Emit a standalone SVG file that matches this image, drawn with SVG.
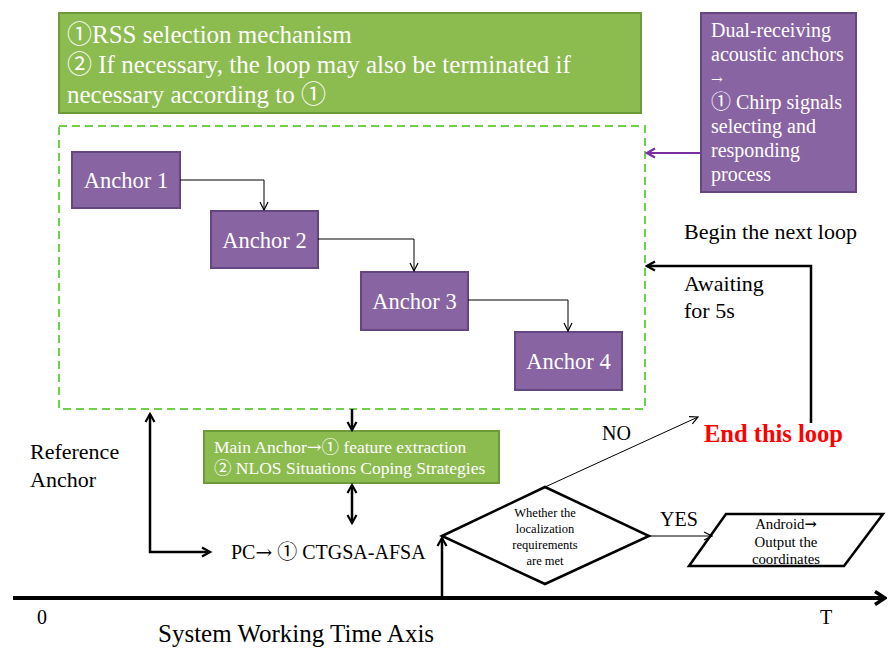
<svg xmlns="http://www.w3.org/2000/svg" width="888" height="648" viewBox="0 0 888 648">
  <style>
    text { font-family: "Liberation Serif", "Times New Roman", "DejaVu Serif", "Noto Sans CJK SC", serif; }
    .arr { font-family: "DejaVu Serif", "Noto Sans CJK SC", serif; }
    .green { fill: #8cbb4f; stroke: #6f9a3c; stroke-width: 2; }
    .purple { fill: #8964a2; stroke: #644680; stroke-width: 2; }
    .wt { fill: #ffffff; }
    .bk { fill: #000000; }
    .thin { fill: none; stroke: #000; stroke-width: 1; }
    .thick { fill: none; stroke: #000; stroke-width: 2.5; }
    .shape { fill: #ffffff; stroke: #000; stroke-width: 2.5; }
  </style>
  <defs>
    <marker id="openThin" viewBox="0 0 10 10" refX="9" refY="5" markerWidth="10" markerHeight="10" markerUnits="userSpaceOnUse" orient="auto-start-reverse">
      <path d="M1,1 L9,5 L1,9" fill="none" stroke="#000" stroke-width="1.2"/>
    </marker>
    <marker id="openBold" viewBox="0 0 12 12" refX="10" refY="6" markerWidth="12" markerHeight="12" markerUnits="userSpaceOnUse" orient="auto-start-reverse">
      <path d="M2,1.5 L10,6 L2,10.5" fill="none" stroke="#000" stroke-width="2.2"/>
    </marker>
    <marker id="openPurple" viewBox="0 0 12 12" refX="10" refY="6" markerWidth="12" markerHeight="12" markerUnits="userSpaceOnUse" orient="auto">
      <path d="M2,1.5 L10,6 L2,10.5" fill="none" stroke="#7b2fa0" stroke-width="2.2"/>
    </marker>
    <marker id="axisHead" viewBox="0 0 14 16" refX="12" refY="8" markerWidth="14" markerHeight="16" markerUnits="userSpaceOnUse" orient="auto">
      <path d="M2,1.5 L12,8 L2,14.5" fill="none" stroke="#000" stroke-width="3.5"/>
    </marker>
  </defs>

  <!-- notes box -->
  <g id="notes">
    <rect class="green" x="59" y="13" width="582" height="100"/>
    <text class="wt" font-size="25" x="67" y="43">①RSS selection mechanism</text>
    <text class="wt" font-size="25" x="67" y="73">② If necessary, the loop may also be terminated if</text>
    <text class="wt" font-size="25" x="67" y="103">necessary according to ①</text>
  </g>

  <!-- dual-receiving anchors box -->
  <g id="dual-anchors">
    <rect class="purple" x="701" y="13" width="155" height="179"/>
    <text class="wt" font-size="20" x="711" y="37">Dual-receiving</text>
    <text class="wt" font-size="20" x="711" y="61">acoustic anchors</text>
    <text class="wt arr" font-size="14" x="711" y="84">→</text>
    <text class="wt" font-size="20" x="711" y="109">① Chirp signals</text>
    <text class="wt" font-size="20" x="711" y="133">selecting and</text>
    <text class="wt" font-size="20" x="711" y="157">responding</text>
    <text class="wt" font-size="20" x="711" y="181">process</text>
  </g>

  <!-- anchor group frame -->
  <g id="anchor-group">
    <rect x="59" y="126" width="586" height="283" fill="none" stroke="#6fd04a" stroke-width="2" stroke-dasharray="8,5"/>
  </g>

  <g id="anchor1">
    <rect class="purple" x="72" y="152" width="108" height="56"/>
    <text class="wt" font-size="22.5" x="126" y="188" text-anchor="middle">Anchor 1</text>
  </g>
  <g id="anchor2">
    <rect class="purple" x="211" y="211" width="107" height="57"/>
    <text class="wt" font-size="22.5" x="264.5" y="248" text-anchor="middle">Anchor 2</text>
  </g>
  <g id="anchor3">
    <rect class="purple" x="361" y="272" width="107" height="58"/>
    <text class="wt" font-size="22.5" x="414.5" y="309" text-anchor="middle">Anchor 3</text>
  </g>
  <g id="anchor4">
    <rect class="purple" x="515" y="332" width="107" height="58"/>
    <text class="wt" font-size="22.5" x="568.5" y="369" text-anchor="middle">Anchor 4</text>
  </g>

  <!-- main anchor box -->
  <g id="main-anchor">
    <rect class="green" x="204" y="431" width="295" height="52"/>
    <text class="wt" font-size="17.5" x="214" y="453">Main Anchor<tspan class="arr">→</tspan>① feature extraction</text>
    <text class="wt" font-size="17.5" x="214" y="474">② NLOS Situations Coping Strategies</text>
  </g>

  <!-- PC -->
  <g id="pc">
    <text class="bk" font-size="20" x="231" y="559">PC<tspan class="arr">→</tspan> ① CTGSA-AFSA</text>
  </g>

  <!-- decision -->
  <g id="decision">
    <polygon class="shape" points="442,536 545,487 649,536 545,584"/>
    <text class="bk" font-size="12.5" x="545" y="517" text-anchor="middle">Whether the</text>
    <text class="bk" font-size="12.5" x="545" y="533" text-anchor="middle">localization</text>
    <text class="bk" font-size="12.5" x="545" y="549" text-anchor="middle">requirements</text>
    <text class="bk" font-size="12.5" x="545" y="565" text-anchor="middle">are met</text>
  </g>

  <!-- output -->
  <g id="output">
    <polygon class="shape" points="689,566 726,514 883,514 844,566"/>
    <text class="bk" font-size="14.8" x="786" y="529" text-anchor="middle">Android<tspan class="arr" font-weight="bold">→</tspan></text>
    <text class="bk" font-size="14.8" x="786" y="547" text-anchor="middle">Output the</text>
    <text class="bk" font-size="14.8" x="786" y="564" text-anchor="middle">coordinates</text>
  </g>

  <!-- end of loop -->
  <g id="end-loop">
    <text font-size="24.5" font-weight="bold" fill="#ff0000" x="704" y="442">End this loop</text>
  </g>

  <!-- free labels -->
  <g id="labels">
    <text class="bk" font-size="22" x="684" y="239">Begin the next loop</text>
    <text class="bk" font-size="22" x="684" y="291">Awaiting</text>
    <text class="bk" font-size="22" x="684" y="318">for 5s</text>
    <text class="bk" font-size="22" x="30" y="459">Reference</text>
    <text class="bk" font-size="22" x="30" y="487">Anchor</text>
    <text class="bk" font-size="20" x="602" y="440">NO</text>
    <text class="bk" font-size="20" x="660" y="526">YES</text>
    <text class="bk" font-size="20" x="37" y="624">0</text>
    <text class="bk" font-size="20" x="820" y="624">T</text>
    <text class="bk" font-size="25" x="158" y="642">System Working Time Axis</text>
  </g>

  <!-- connectors -->
  <g id="connectors">
    <path class="thin" d="M180,180 H264 V210" marker-end="url(#openThin)"/>
    <path class="thin" d="M318,239 H414 V271" marker-end="url(#openThin)"/>
    <path class="thin" d="M468,300 H568 V331" marker-end="url(#openThin)"/>
    <path d="M701,153 H647" fill="none" stroke="#7b2fa0" stroke-width="2.2" marker-end="url(#openPurple)"/>
    <path class="thick" d="M811,423 V266 H647" marker-end="url(#openBold)"/>
    <path class="thick" d="M352,409 V430" marker-end="url(#openBold)"/>
    <path class="thick" d="M352,485 V523" marker-start="url(#openBold)" marker-end="url(#openBold)"/>
    <path class="thick" d="M150,414 V552 H210" marker-start="url(#openBold)" marker-end="url(#openBold)"/>
    <path class="thick" d="M442,598 V538" marker-end="url(#openBold)"/>
    <path class="thin" d="M545,487 L698,417" marker-end="url(#openThin)"/>
    <path class="thin" d="M649,536 H712" marker-end="url(#openThin)"/>
    <path d="M13,598 H885" fill="none" stroke="#000" stroke-width="4" marker-end="url(#axisHead)"/>
  </g>
</svg>
